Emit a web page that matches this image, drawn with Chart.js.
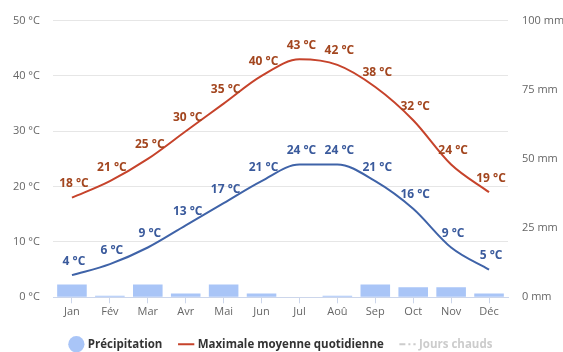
<!DOCTYPE html>
<html>
<head>
<meta charset="utf-8">
<script src="https://cdn.jsdelivr.net/npm/chart.js@4"></script>
<style>
  html, body { margin: 0; padding: 0; background: #fff; }
  #wrap { width: 563px; height: 352px; }
</style>
</head>
<body>
<div id="wrap"><canvas id="climate-chart"></canvas></div>
<script>
const months = ['Jan', 'Fév', 'Mar', 'Avr', 'Mai', 'Jun', 'Jul', 'Aoû', 'Sep', 'Oct', 'Nov', 'Déc'];
const precipitation = [4.6, 0.6, 4.6, 1.4, 4.6, 1.4, 0, 0.6, 4.6, 3.6, 3.6, 1.4];
const maxTemp = [18, 21, 25, 30, 35, 40, 43, 42, 38, 32, 24, 19];
const minTemp = [4, 6, 9, 13, 17, 21, 24, 24, 21, 16, 9, 5];
const hotDays = [0, 0, 0, 2, 10, 25, 31, 31, 25, 8, 0, 0];

const font = "'Open Sans', 'DejaVu Sans', sans-serif";

// draws "18 °C" above each point of the temperature lines
const pointLabels = {
  id: 'pointLabels',
  afterDatasetsDraw(chart) {
    const ctx = chart.ctx;
    chart.data.datasets.forEach((ds, i) => {
      if (!ds.labelColor || !chart.isDatasetVisible(i)) return;
      const meta = chart.getDatasetMeta(i);
      ctx.save();
      ctx.font = 'bold 12px ' + font;
      ctx.fillStyle = ds.labelColor;
      ctx.textAlign = 'center';
      ctx.textBaseline = 'middle';
      meta.data.forEach((pt, j) => {
        ctx.fillText(ds.data[j] + ' °C', pt.x + 2, pt.y - 14);
      });
      ctx.restore();
    });
  }
};

new Chart(document.getElementById('climate-chart'), {
  type: 'bar',
  data: {
    labels: months,
    datasets: [
      {
        label: 'Précipitation',
        data: precipitation,
        yAxisID: 'yRain',
        backgroundColor: '#a9c5f7',
        barPercentage: 0.78,
        categoryPercentage: 1,
        order: 3
      },
      {
        type: 'line',
        label: 'Maximale moyenne quotidienne',
        data: maxTemp,
        yAxisID: 'yTemp',
        borderColor: '#c6432b',
        labelColor: '#a3461f',
        borderWidth: 2,
        pointRadius: 0,
        cubicInterpolationMode: 'monotone',
        order: 1
      },
      {
        type: 'line',
        label: 'Minimale moyenne quotidienne',
        data: minTemp,
        yAxisID: 'yTemp',
        borderColor: '#3f63a8',
        labelColor: '#3a5a9c',
        borderWidth: 2,
        pointRadius: 0,
        cubicInterpolationMode: 'monotone',
        order: 2
      },
      {
        type: 'line',
        label: 'Jours chauds',
        data: hotDays,
        yAxisID: 'yRain',
        borderColor: '#999',
        borderDash: [6, 3, 2, 3],
        pointRadius: 0,
        hidden: true
      }
    ]
  },
  options: {
    responsive: true,
    maintainAspectRatio: false,
    animation: false,
    layout: { padding: { top: 15, bottom: -8, left: 0, right: 0 } },
    plugins: {
      tooltip: { enabled: false },
      legend: {
        position: 'bottom',
        labels: {
          usePointStyle: true,
          boxWidth: 14,
          boxHeight: 14,
          padding: 18,
          font: { family: font, size: 11.5, weight: 'bold' },
          color: '#333',
          filter: (item) => item.text !== 'Minimale moyenne quotidienne',
          generateLabels(chart) {
            return chart.data.datasets.map((ds, i) => {
              const isBar = !ds.type;
              const off = ds.hidden;
              return {
                text: ds.label,
                datasetIndex: i,
                hidden: false,
                fontColor: off ? '#cccccc' : '#333',
                fillStyle: isBar ? ds.backgroundColor : ds.borderColor,
                strokeStyle: off ? '#cccccc' : (isBar ? ds.backgroundColor : ds.borderColor),
                lineWidth: isBar ? 0 : 2,
                lineDash: ds.borderDash || [],
                pointStyle: isBar ? 'circle' : 'line'
              };
            });
          }
        }
      }
    },
    scales: {
      x: {
        grid: {
          display: true,
          offset: false,
          drawOnChartArea: false,
          drawTicks: true,
          tickLength: 6,
          color: '#ccd6eb'
        },
        border: { color: '#ccd6eb' },
        ticks: { color: '#666', font: { family: font, size: 11 }, padding: 2 }
      },
      yTemp: {
        position: 'left',
        min: 0,
        max: 50,
        ticks: {
          stepSize: 10,
          color: '#666',
          padding: 13,
          font: { family: font, size: 11 },
          callback: (v) => v + ' °C'
        },
        grid: { color: '#e6e6e6', drawTicks: false },
        border: { display: false },
        afterFit: (scale) => { scale.width = 53; }
      },
      yRain: {
        position: 'right',
        min: 0,
        max: 100,
        ticks: {
          stepSize: 25,
          color: '#666',
          padding: 14,
          font: { family: font, size: 11 },
          callback: (v) => v + ' mm'
        },
        grid: { drawOnChartArea: false, drawTicks: false },
        border: { display: false },
        afterFit: (scale) => { scale.width = 55; }
      }
    }
  },
  plugins: [pointLabels]
});
</script>
</body>
</html>
